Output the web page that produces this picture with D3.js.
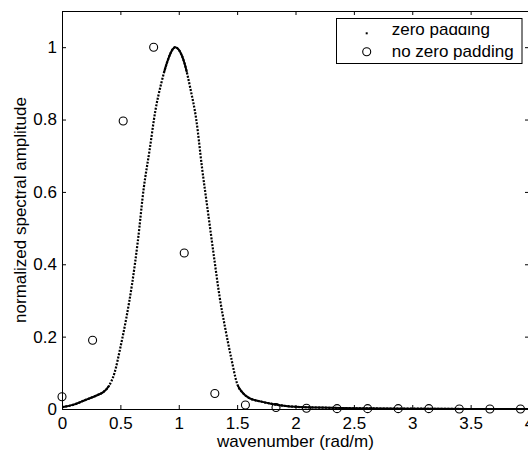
<!DOCTYPE html>
<html><head><meta charset="utf-8">
<script src="https://cdn.jsdelivr.net/npm/d3@7"></script>
<style>
html,body{margin:0;padding:0;background:#fff;}
svg{display:block;}
text{font-family:"Liberation Sans",Arial,Helvetica,sans-serif;fill:#000;}
</style>
</head><body><div id="chart"></div>
<script>
// zero padding curve
const curveX = [0.00,0.10,0.20,0.30,0.35,0.40,0.45,0.50,0.55,0.60,0.65,0.70,0.75,0.80,0.85,0.90,0.95,0.97,1.00,1.05,1.10,1.15,1.20,1.25,1.30,1.35,1.40,1.45,1.50,1.55,1.60,1.70,1.80,1.90,2.00,2.20,2.50,3.00,3.50,4.00];
const curveY = [0.005,0.012,0.025,0.038,0.046,0.063,0.100,0.170,0.250,0.345,0.465,0.610,0.715,0.825,0.900,0.958,0.995,1.000,0.993,0.955,0.885,0.800,0.665,0.545,0.425,0.310,0.220,0.140,0.070,0.044,0.031,0.021,0.014,0.009,0.006,0.004,0.002,0.001,0.000,0.000];
// no zero padding samples
const sampleX = [0,0.262,0.524,0.785,1.047,1.309,1.571,1.833,2.094,2.356,2.618,2.880,3.142,3.403,3.665,3.927];
const sampleY = [0.034,0.190,0.796,1.000,0.431,0.043,0.011,0.004,0.002,0.001,0.001,0.001,0.001,0.000,0.000,0.000];
const xTicks = [0,0.5,1,1.5,2,2.5,3,3.5,4];
const xTickLabels = ["0","0.5","1","1.5","2","2.5","3","3.5","4"];
const yTicks = [0,0.2,0.4,0.6,0.8,1];
const yTickLabels = ["0","0.2","0.4","0.6","0.8","1"];
const seriesNames = ["zero padding","no zero padding"];
const xTitle = "wavenumber (rad/m)";
const yTitle = "normalized spectral amplitude";

const W = 528, H = 454;
const L = 62, T = 11, R = 529, B = 409;
const FS = 17;

const x = d3.scaleLinear().domain([0,4]).range([L,R]);
const y = d3.scaleLinear().domain([0,1.1]).range([B,T]);

const svg = d3.select("#chart").append("svg").attr("width",W).attr("height",H);
svg.append("rect").attr("width",W).attr("height",H).attr("fill","#fff");

const defs = svg.append("defs");
defs.append("clipPath").attr("id","plotclip").append("rect")
  .attr("x",L).attr("y",T).attr("width",R-L).attr("height",B-T+3);
const bands = defs.append("clipPath").attr("id","solidclip");
bands.append("rect").attr("x",L).attr("y",T).attr("width",R-L).attr("height",y(0.93)-T);
bands.append("rect").attr("x",L).attr("y",y(0.065)).attr("width",R-L).attr("height",B-y(0.065)+3);
defs.append("clipPath").attr("id","legclip").append("rect")
  .attr("x",330).attr("y",26).attr("width",200).attr("height",40);

function styleAxis(g){
  g.selectAll("path,line").attr("stroke","#000").attr("stroke-width",1);
  g.selectAll("text").attr("font-size",FS).attr("font-family",'"Liberation Sans",Arial,sans-serif').attr("fill","#000");
}

// axes
const gx = svg.append("g").attr("transform",`translate(0,${B})`)
  .call(d3.axisBottom(x).tickValues(xTicks).tickFormat((d,i)=>xTickLabels[i]).tickSizeInner(-4).tickSizeOuter(0).tickPadding(8));
styleAxis(gx);
const gt = svg.append("g").attr("transform",`translate(0,${T})`)
  .call(d3.axisTop(x).tickValues(xTicks).tickFormat("").tickSizeInner(-4).tickSizeOuter(0));
styleAxis(gt);
const gy = svg.append("g").attr("transform",`translate(${L},0)`)
  .call(d3.axisLeft(y).tickValues(yTicks).tickFormat((d,i)=>yTickLabels[i]).tickSizeInner(-4).tickSizeOuter(0).tickPadding(5));
styleAxis(gy);
const gr = svg.append("g").attr("transform",`translate(${R},0)`)
  .call(d3.axisRight(y).tickValues(yTicks).tickFormat("").tickSizeInner(-4).tickSizeOuter(0));
styleAxis(gr);

// curve
const pts = curveX.map((v,i)=>[v,curveY[i]]);
const line = d3.line().x(d=>x(d[0])).y(d=>y(d[1])).curve(d3.curveMonotoneX);
const plot = svg.append("g").attr("clip-path","url(#plotclip)");
plot.append("path").datum(pts).attr("d",line).attr("fill","none")
  .attr("stroke","#000").attr("stroke-width",2.2).attr("stroke-dasharray","2,1.4");
plot.append("g").attr("clip-path","url(#solidclip)")
  .append("path").datum(pts).attr("d",line).attr("fill","none")
  .attr("stroke","#000").attr("stroke-width",2);

// samples
svg.append("g").selectAll("circle").data(sampleX.map((v,i)=>[v,sampleY[i]])).join("circle")
  .attr("cx",d=>x(d[0])).attr("cy",d=>y(d[1])).attr("r",4)
  .attr("fill","none").attr("stroke","#000").attr("stroke-width",1.1);

// titles
svg.append("text").attr("x",(L+R)/2).attr("y",447).attr("text-anchor","middle")
  .attr("font-size",FS).text(xTitle);
svg.append("text").attr("transform",`translate(25.5,${(T+B)/2}) rotate(-90)`)
  .attr("text-anchor","middle").attr("font-size",FS).text(yTitle);

// legend
const lg = svg.append("g");
lg.append("rect").attr("x",336.5).attr("y",18.5).attr("width",185.5).attr("height",45)
  .attr("fill","#fff").attr("stroke","#000").attr("stroke-width",1);
lg.append("rect").attr("x",365.7).attr("y",32.3).attr("width",2).attr("height",2).attr("fill","#000");
lg.append("text").attr("x",391.7).attr("y",35).attr("font-size",FS)
  .attr("clip-path","url(#legclip)").text(seriesNames[0]);
lg.append("circle").attr("cx",366.7).attr("cy",51.7).attr("r",4)
  .attr("fill","none").attr("stroke","#000").attr("stroke-width",1.1);
lg.append("text").attr("x",391.7).attr("y",56.5).attr("font-size",FS).text(seriesNames[1]);
</script>
</body></html>
